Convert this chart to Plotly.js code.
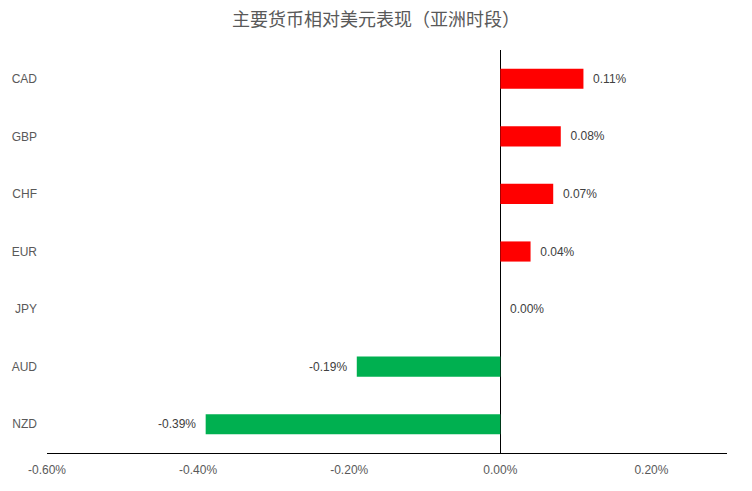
<!DOCTYPE html>
<html>
<head>
<meta charset="utf-8">
<script src="https://cdn.plot.ly/plotly-3.0.1.min.js"></script>
<style>
  body { margin: 0; background: #fff; }
  #chart { width: 752px; height: 491px; }
</style>
</head>
<body>
<div id="chart"></div>
<script>
// currencies, top to bottom as shown
var currencies = ["CAD", "GBP", "CHF", "EUR", "JPY", "AUD", "NZD"];
// change vs USD, in percent
var changes = [0.11, 0.08, 0.07, 0.04, 0.00, -0.19, -0.39];
var xTicks = [-0.6, -0.4, -0.2, 0, 0.2];
var xTickText = ["-0.60%", "-0.40%", "-0.20%", "0.00%", "0.20%"];

var barColors = changes.map(function(v) { return v < 0 ? "#00B050" : "#FF0000"; });
// a little padding so the labels sit off the bar ends like in excel
var pad = "\u00a0\u00a0";
var labels = changes.map(function(v) {
  var s = v.toFixed(2) + "%";
  return v < 0 ? s + pad : pad + s;
});

var data = [
  {
    type: "bar",
    orientation: "h",
    y: currencies,
    x: changes,
    marker: { color: barColors },
    text: labels,
    textposition: "outside",
    cliponaxis: false,
    textfont: { family: "Liberation Sans", size: 12, color: "#404040" },
    hoverinfo: "none"
  }
];

var layout = {
  width: 752,
  height: 491,
  margin: { l: 47, r: 25, t: 50, b: 38 },
  paper_bgcolor: "#ffffff",
  plot_bgcolor: "#ffffff",
  showlegend: false,
  bargap: 0.65,
  font: { family: "Liberation Sans", size: 12, color: "#595959" },
  title: {
    text: "主要货币相对美元表现（亚洲时段）",
    font: { family: "Noto Sans CJK SC", size: 18, color: "#595959" },
    x: 0.5,
    xanchor: "center",
    y: 0.96,
    yanchor: "middle"
  },
  xaxis: {
    range: [-0.6, 0.3],
    tickvals: xTicks,
    ticktext: xTickText,
    showgrid: false,
    zeroline: true,
    zerolinecolor: "#000000",
    zerolinewidth: 1,
    showline: true,
    linecolor: "#000000",
    linewidth: 1,
    ticks: "",
    ticklabelstandoff: 6,
    tickfont: { family: "Liberation Sans", size: 12, color: "#595959" }
  },
  yaxis: {
    autorange: "reversed",
    showgrid: false,
    zeroline: false,
    showline: false,
    ticks: "",
    ticklabelstandoff: 9,
    tickfont: { family: "Liberation Sans", size: 12, color: "#595959" }
  }
};

Plotly.newPlot("chart", data, layout, { displayModeBar: false, staticPlot: true });
</script>
</body>
</html>
